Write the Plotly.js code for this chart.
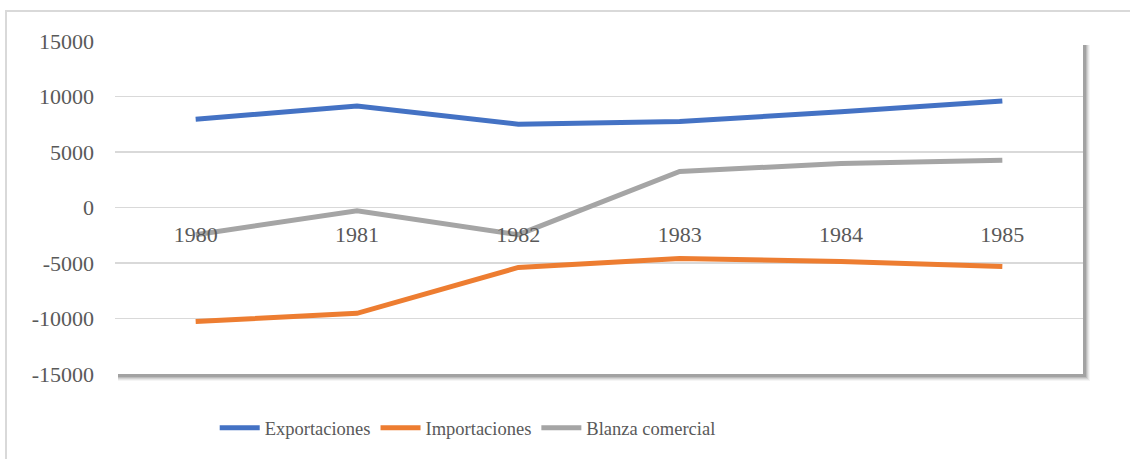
<!DOCTYPE html>
<html>
<head>
<meta charset="utf-8">
<script src="https://cdn.plot.ly/plotly-3.0.1.min.js"></script>
<style>
  html, body { margin: 0; padding: 0; background: #ffffff; }
  #wrap { position: relative; width: 1130px; height: 459px; overflow: hidden; }
  #frame { position: absolute; left: 5px; top: 10px; width: 1140px; height: 470px; border: 2px solid #d9d9d9; box-sizing: border-box; pointer-events: none; }
  #chart { position: absolute; left: 0; top: 0; width: 1130px; height: 459px; }
</style>
</head>
<body>
<div id="wrap">
  <div id="frame"></div>
  <div id="chart"></div>
</div>
<script>
const years = ['1980', '1981', '1982', '1983', '1984', '1985'];
const exportaciones = [7950, 9150, 7500, 7740, 8630, 9600];
const importaciones = [-10280, -9530, -5400, -4590, -4860, -5310];
const balanza = [-2450, -300, -2450, 3240, 3960, 4260];
const seriesNames = ['Exportaciones', 'Importaciones', 'Blanza comercial'];
const yTicks = [-15000, -10000, -5000, 0, 5000, 10000, 15000];

const colors = ['#4472C4', '#ED7D31', '#A5A5A5'];
const allSeries = [exportaciones, importaciones, balanza];
const serif = 'Liberation Serif, Times New Roman, serif';

const traces = allSeries.map((vals, i) => ({
  type: 'scatter',
  mode: 'lines',
  x: years,
  y: vals,
  name: seriesNames[i],
  line: { color: colors[i], width: 5 },
  hoverinfo: 'x+y+name'
}));

const px = 1 / 968, py = 1 / 335;
const shapes = [];
// soft shadow at right/bottom of plot area
[[7, 0.05], [6, 0.08], [5, 0.11], [4, 0.15], [3, 0.2]].forEach(([o, op]) => {
  shapes.push({
    type: 'rect', xref: 'paper', yref: 'paper', layer: 'below',
    x0: 0 + 3 * px, x1: 1 + o * px, y0: 0 - o * py, y1: 1 - 4 * py,
    fillcolor: 'rgba(60,60,60,' + op + ')', line: { width: 0 }
  });
});
shapes.push({
  type: 'rect', xref: 'paper', yref: 'paper', layer: 'below',
  x0: 0, x1: 1, y0: 0, y1: 1,
  fillcolor: '#ffffff', line: { width: 0 }
});

const layout = {
  width: 1130,
  height: 459,
  margin: { l: 115, r: 47, t: 41, b: 83 },
  paper_bgcolor: 'rgba(0,0,0,0)',
  plot_bgcolor: 'rgba(0,0,0,0)',
  font: { family: serif, color: '#595959', size: 22 },
  showlegend: true,
  legend: {
    orientation: 'h',
    x: 0.103, xanchor: 'left',
    y: -0.163, yanchor: 'middle',
    font: { family: serif, size: 18.5, color: '#595959' },
    itemwidth: 40,
    traceorder: 'normal'
  },
  xaxis: {
    type: 'category',
    range: [-0.5, 5.5],
    anchor: 'free',
    position: 0.5,
    showgrid: false,
    zeroline: false,
    showline: false,
    ticks: '',
    ticklabelstandoff: 11,
    tickfont: { family: serif, size: 22, color: '#595959' },
    fixedrange: true
  },
  yaxis: {
    range: [-15000, 15000],
    tickvals: yTicks,
    ticktext: yTicks.map(String),
    showgrid: true,
    gridcolor: '#d9d9d9',
    gridwidth: 1.5,
    zeroline: false,
    showline: false,
    ticks: '',
    ticklabelstandoff: 20,
    tickfont: { family: serif, size: 22, color: '#595959' },
    fixedrange: true
  },
  shapes: shapes
};

Plotly.newPlot('chart', traces, layout, { displayModeBar: false, staticPlot: true });
</script>
</body>
</html>
